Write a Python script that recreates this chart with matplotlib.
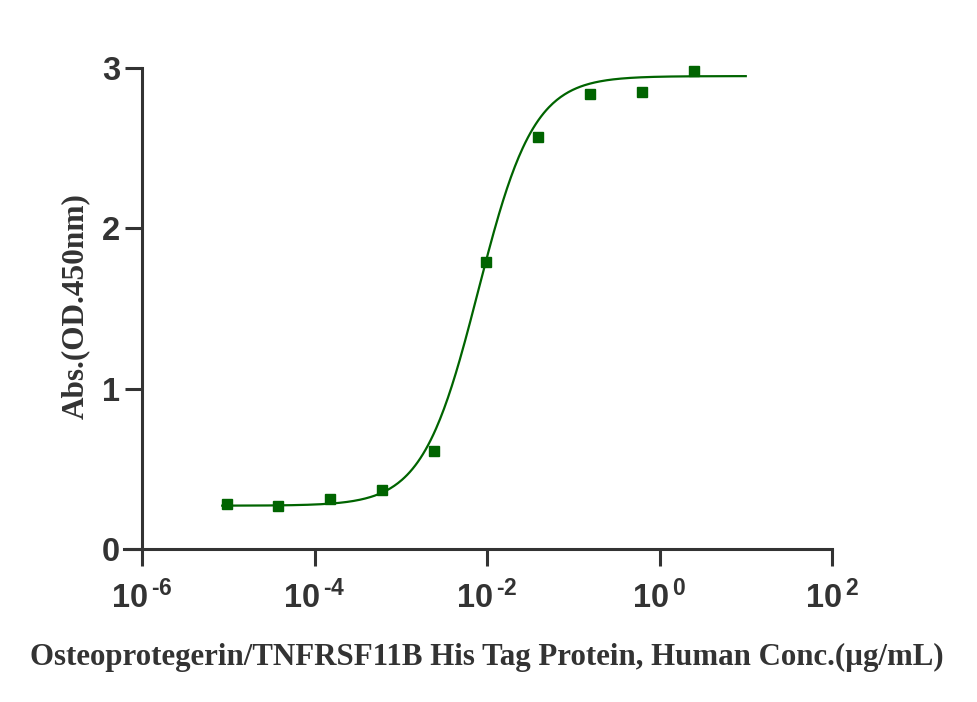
import numpy as np
import matplotlib
matplotlib.use("Agg")
import matplotlib.pyplot as plt
from matplotlib.ticker import FixedLocator, FuncFormatter, NullLocator

# Data
conc = [9.54e-6, 3.81e-5, 1.53e-4, 6.10e-4, 2.44e-3, 9.77e-3, 0.0391, 0.156, 0.625, 2.5]
absorb = [0.28, 0.27, 0.31, 0.37, 0.61, 1.79, 2.57, 2.84, 2.85, 2.98]

# 4PL fit parameters
fit_bottom = 0.27
fit_top = 2.95
fit_ec50 = 0.0079
fit_hill = 1.35
fit_range = (8.5e-6, 10.0)

x_ticks = [1e-6, 1e-4, 1e-2, 1e0, 1e2]
x_ticklabels = ["-6", "-4", "-2", "0", "2"]
y_ticks = [0, 1, 2, 3]

xlabel = "Osteoprotegerin/TNFRSF11B His Tag Protein, Human Conc.(\u00b5g/mL)"
ylabel = "Abs.(OD.450nm)"

green = "#006400"
axcol = "#333333"

plt.rcParams["mathtext.fontset"] = "custom"
plt.rcParams["mathtext.rm"] = "Liberation Sans:bold"
plt.rcParams["mathtext.bf"] = "Liberation Sans:bold"

fig = plt.figure(figsize=(9.77, 7.02), dpi=100)
ax = fig.add_axes([0.127, 0.218, 0.8516 - 0.127, 0.903 - 0.218])

xs = np.logspace(np.log10(fit_range[0]), np.log10(fit_range[1]), 400)
ys = fit_bottom + (fit_top - fit_bottom) / (1 + (fit_ec50 / xs) ** fit_hill)
ax.plot(xs, ys, color=green, lw=1.6, zorder=2, clip_on=False)
ax.plot(conc, absorb, ls="none", marker="s", ms=7.2, color=green, zorder=3, clip_on=False)

ax.set_xscale("log")
ax.set_xlim(10 ** (-6 - 18 / 86.25), 1e2)
ax.set_ylim(0, 3)

ax.spines["top"].set_visible(False)
ax.spines["right"].set_visible(False)
ax.spines["left"].set_position(("data", 1e-6))
for s in ["left", "bottom"]:
    ax.spines[s].set_color(axcol)
    ax.spines[s].set_linewidth(2.2)

ax.xaxis.set_major_locator(FixedLocator(x_ticks))
ax.xaxis.set_minor_locator(NullLocator())
lab_map = dict(zip(x_ticks, x_ticklabels))


def fmt(v, p):
    e = min(lab_map.items(), key=lambda kv: abs(np.log10(kv[0]) - np.log10(v)))[1]
    return r"$\mathbf{10^{\,\text{%s}}}$" % e


ax.xaxis.set_major_formatter(FuncFormatter(fmt))
ax.set_yticks(y_ticks)
ax.set_yticklabels([str(v) for v in y_ticks])

ax.tick_params(axis="both", which="major", length=12, width=2.2, color=axcol,
               labelcolor=axcol, labelsize=23.5)
ax.tick_params(axis="x", pad=11)
ax.tick_params(axis="y", pad=4)
for t in ax.get_yticklabels():
    t.set_fontfamily("Liberation Sans")
    t.set_fontweight("bold")

fig.text(0.4985, 0.053, xlabel, ha="center", va="baseline", fontsize=22.2,
         fontfamily="Liberation Serif", fontweight="bold", color=axcol)
fig.text(0.077, 0.564, ylabel, ha="center", va="center", rotation=90, fontsize=22.5,
         fontfamily="Liberation Serif", fontweight="bold", color=axcol)

fig.savefig("out.png", dpi=100, facecolor="white")
